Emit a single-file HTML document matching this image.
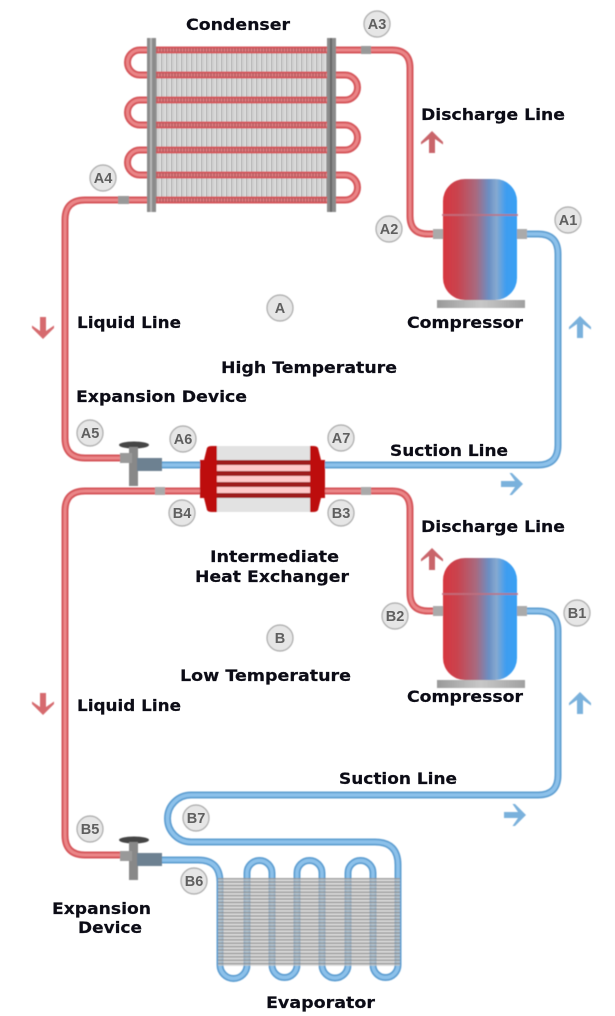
<!DOCTYPE html>
<html><head><meta charset="utf-8"><style>
html,body{margin:0;padding:0;background:#fff}
svg{display:block}
text{font-family:"DejaVu Sans","Liberation Sans",sans-serif;font-weight:bold;font-size:16px;fill:#0c0c16;stroke:#0c0c16;stroke-width:.2px}
.c text{font-family:"Liberation Sans",sans-serif;font-weight:bold;font-size:14.500px;fill:#5f5f5f;stroke:none;text-anchor:middle}
</style></head><body>
<svg width="615" height="1016" viewBox="0 0 615 1016" xmlns="http://www.w3.org/2000/svg">
<defs>
<pattern id="fin" width="5" height="10" patternUnits="userSpaceOnUse"><rect width="5" height="10" fill="#e6e6e6"/><rect x="1" width="1.300" height="10" fill="#a4a4a4"/><rect x="3.400" width="1" height="10" fill="#c0c0c0"/></pattern>
<pattern id="efin" width="10" height="3.400" patternUnits="userSpaceOnUse"><rect y=".6" width="10" height="1.700" fill="#8e8e8e" fill-opacity=".8"/><rect y="2.300" width="10" height="1.100" fill="#d0d0d0" fill-opacity=".5"/></pattern>
<linearGradient id="comp" x1="0" x2="1" y1="0" y2="0"><stop offset="0" stop-color="#d7363f"/><stop offset=".2" stop-color="#c9444f"/><stop offset=".45" stop-color="#a86a80"/><stop offset=".62" stop-color="#6a8fc4"/><stop offset=".72" stop-color="#86a9d0"/><stop offset=".85" stop-color="#3f9df0"/><stop offset="1" stop-color="#38a0f4"/></linearGradient>
<linearGradient id="base" x1="0" x2="1" y1="0" y2="0"><stop offset="0" stop-color="#999"/><stop offset=".5" stop-color="#c8c8c8"/><stop offset="1" stop-color="#a0a0a0"/></linearGradient>
<filter id="b"><feGaussianBlur stdDeviation=".5"/></filter>
<path id="arr" d="M0,-11 L11,0 L11,2.500 L3,-3 L3,11 L-3,11 L-3,-3 L-11,2.500 L-11,0 Z"/>
<path id="p1" d="M443,234 H428 Q410,234 410,216 V68 Q410,50 392,50 H140 A12.500,12.500 0 0 0 140,75 H345 A12.500,12.500 0 0 1 345,100 H140 A12.500,12.500 0 0 0 140,125 H345 A12.500,12.500 0 0 1 345,150 H140 A12.500,12.500 0 0 0 140,175 H345 A12.500,12.500 0 0 1 345,200 H85 Q65,200 65,220 V438 Q65,458 85,458 H122"/>
<path id="p2" d="M200,491 H85 Q65,491 65,511 V835 Q65,855 85,855 H122"/>
<path id="p3" d="M325,491 H392 Q410,491 410,509 V593 Q410,611 428,611 H443"/>
<path id="p4" d="M525,234 H538 Q558,234 558,254 V445 Q558,465 538,465 H325"/>
<path id="p5" d="M162,465 H200"/>
<path id="p6" d="M525,611 H538 Q558,611 558,631 V775 Q558,795 538,795 H191 A23.500,23.500 0 0 0 191,842 H375 Q398,842 398,865 V965 A12.500,12.500 0 0 1 373,965 V873 A12.500,12.500 0 0 0 348,873 V965 A13,13 0 0 1 322,965 V873 A12.500,12.500 0 0 0 297,873 V965 A12.500,12.500 0 0 1 272,965 V873 A12.500,12.500 0 0 0 247,873 V965 A13.500,13.500 0 0 1 220,965 V882 Q220,860 198,860 H160"/>
</defs>

<g filter="url(#b)">
<rect x="155" y="50" width="172" height="150" fill="url(#fin)"/>

<g fill="none" stroke="#d6565b" stroke-width="7"><use href="#p1"/><use href="#p2"/><use href="#p3"/></g>
<g fill="none" stroke="#ea8587" stroke-width="3"><use href="#p1"/><use href="#p2"/><use href="#p3"/></g>
<g stroke="#a8555a" stroke-width="4" stroke-dasharray="2 1" opacity=".7">
<path d="M156,50H327M156,75H327M156,100H327M156,125H327M156,150H327M156,175H327M156,200H327"/>
</g>

<rect x="147" y="38" width="9" height="174" fill="#8b8b8b"/><rect x="150" y="38" width="2" height="174" fill="#b5b5b5"/>
<rect x="327" y="38" width="9" height="174" fill="#8b8b8b"/><rect x="330" y="38" width="2" height="174" fill="#666"/>
<rect x="361" y="46" width="10" height="8" fill="#999"/>
<rect x="118" y="196" width="11" height="8" fill="#999"/>

<g fill="none" stroke="#5f9fd2" stroke-width="7"><use href="#p4"/><use href="#p5"/><use href="#p6"/></g>
<g fill="none" stroke="#8cc1ea" stroke-width="3.500"><use href="#p4"/><use href="#p5"/><use href="#p6"/></g>
<rect x="218" y="878" width="182" height="88" fill="#c4c4c4" fill-opacity=".45"/>
<rect x="218" y="878" width="182" height="88" fill="url(#efin)"/>

<rect x="217" y="446" width="95" height="66" fill="#e2e2e2"/>
<rect x="217" y="461" width="95" height="37" fill="#ffc9c9"/>
<g fill="#9e1a1c"><rect x="217" y="460" width="95" height="5"/><rect x="217" y="471" width="95" height="5"/><rect x="217" y="482" width="95" height="5"/><rect x="217" y="493" width="95" height="5"/></g>
<path d="M200,460 H204 L207,448 Q208,446 212,446 H217 V512 H212 Q208,512 207,510 L204,498 H200 Z" fill="#bd0d10"/>
<path d="M325,460 H321 L318,448 Q317,446 313,446 H310 V512 H313 Q317,512 318,510 L321,498 H325 Z" fill="#bd0d10"/>
<rect x="155" y="487" width="10" height="8" fill="#aaa"/>
<rect x="361" y="487" width="10" height="8" fill="#aaa"/>

<ellipse cx="134" cy="445" rx="15" ry="3.500" fill="#444"/>
<rect x="129" y="447" width="9" height="39" fill="#888"/>
<rect x="120" y="453" width="12" height="10" fill="#999"/>
<rect x="137" y="458" width="25" height="13" fill="#6d8191"/>
<ellipse cx="134" cy="840" rx="15" ry="3.500" fill="#444"/>
<rect x="129" y="842" width="9" height="38" fill="#888"/>
<rect x="120" y="851" width="12" height="10" fill="#999"/>
<rect x="137" y="853" width="25" height="13" fill="#6d8191"/>

<rect x="433" y="229" width="11" height="10" fill="#aaa"/><rect x="516" y="229" width="11" height="10" fill="#aaa"/>
<rect x="443" y="179" width="74" height="121" rx="22" fill="url(#comp)"/>
<rect x="442" y="214" width="76" height="2" fill="#c07080" opacity=".8"/>
<rect x="437" y="300" width="88" height="8" fill="url(#base)"/>
<rect x="433" y="606" width="11" height="10" fill="#aaa"/><rect x="516" y="606" width="11" height="10" fill="#aaa"/>
<rect x="443" y="558" width="74" height="122" rx="22" fill="url(#comp)"/>
<rect x="442" y="593" width="76" height="2" fill="#c07080" opacity=".8"/>
<rect x="437" y="680" width="88" height="8" fill="url(#base)"/>

<use href="#arr" transform="translate(432,142)" fill="#c9656a"/>
<use href="#arr" transform="translate(432,559)" fill="#c9656a"/>
<use href="#arr" transform="translate(43,328) rotate(180)" fill="#d66a6e"/>
<use href="#arr" transform="translate(43,704) rotate(180)" fill="#d66a6e"/>
<use href="#arr" transform="translate(580,327)" fill="#7ab1dc"/>
<use href="#arr" transform="translate(580,703)" fill="#7ab1dc"/>
<use href="#arr" transform="translate(512,484) rotate(90)" fill="#7ab1dc"/>
<use href="#arr" transform="translate(515,815) rotate(90)" fill="#7ab1dc"/>

<g fill="#e6e6e6" stroke="#a8a8a8" stroke-width="1.200">
<circle cx="377" cy="24" r="13"/><circle cx="103" cy="178" r="13"/><circle cx="389" cy="229" r="13"/><circle cx="568" cy="220" r="13"/><circle cx="280" cy="308" r="13"/><circle cx="90" cy="433" r="13"/><circle cx="183" cy="439" r="13"/><circle cx="341" cy="438" r="13"/><circle cx="182" cy="513" r="13"/><circle cx="341" cy="513" r="13"/><circle cx="395" cy="616" r="13"/><circle cx="577" cy="613" r="13"/><circle cx="280" cy="638" r="13"/><circle cx="90" cy="829" r="13"/><circle cx="196" cy="818" r="13"/><circle cx="194" cy="881" r="13"/>
</g>
</g>

<g class="c">
<text x="377" y="29">A3</text><text x="103" y="183">A4</text><text x="389" y="234">A2</text><text x="568" y="225">A1</text><text x="280" y="313">A</text><text x="90" y="438">A5</text><text x="183" y="444">A6</text><text x="341" y="443">A7</text><text x="182" y="518">B4</text><text x="341" y="518">B3</text><text x="395" y="621">B2</text><text x="577" y="618">B1</text><text x="280" y="643">B</text><text x="90" y="834">B5</text><text x="196" y="823">B7</text><text x="194" y="886">B6</text>
</g>

<text x="186" y="30" textLength="104" lengthAdjust="spacingAndGlyphs">Condenser</text>
<text x="421" y="120" textLength="144" lengthAdjust="spacingAndGlyphs">Discharge Line</text>
<text x="407" y="328" textLength="116" lengthAdjust="spacingAndGlyphs">Compressor</text>
<text x="77" y="328" textLength="104" lengthAdjust="spacingAndGlyphs">Liquid Line</text>
<text x="221" y="373" textLength="176" lengthAdjust="spacingAndGlyphs">High Temperature</text>
<text x="76" y="402" textLength="171" lengthAdjust="spacingAndGlyphs">Expansion Device</text>
<text x="390" y="456" textLength="118" lengthAdjust="spacingAndGlyphs">Suction Line</text>
<text x="421" y="532" textLength="144" lengthAdjust="spacingAndGlyphs">Discharge Line</text>
<text x="210" y="562" textLength="129" lengthAdjust="spacingAndGlyphs">Intermediate</text>
<text x="195" y="582" textLength="154" lengthAdjust="spacingAndGlyphs">Heat Exchanger</text>
<text x="180" y="681" textLength="171" lengthAdjust="spacingAndGlyphs">Low Temperature</text>
<text x="407" y="702" textLength="116" lengthAdjust="spacingAndGlyphs">Compressor</text>
<text x="77" y="711" textLength="104" lengthAdjust="spacingAndGlyphs">Liquid Line</text>
<text x="339" y="784" textLength="118" lengthAdjust="spacingAndGlyphs">Suction Line</text>
<text x="52" y="914" textLength="99" lengthAdjust="spacingAndGlyphs">Expansion</text>
<text x="78" y="933" textLength="64" lengthAdjust="spacingAndGlyphs">Device</text>
<text x="266" y="1008" textLength="109" lengthAdjust="spacingAndGlyphs">Evaporator</text>
</svg>
</body></html>
